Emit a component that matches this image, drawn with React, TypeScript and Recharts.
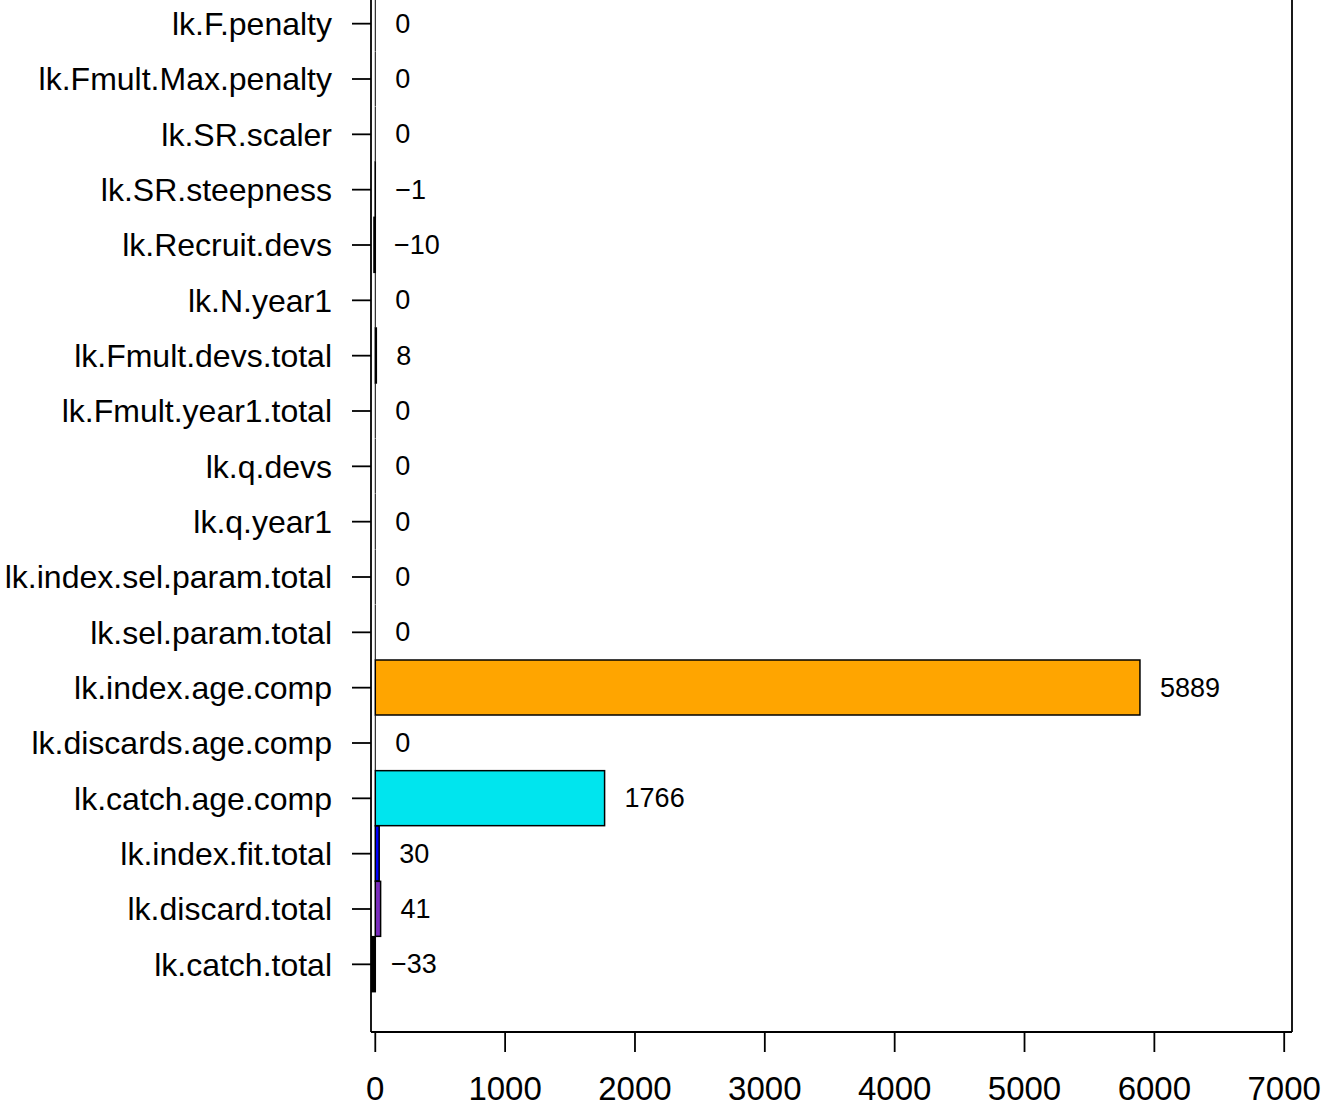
// Horizontal likelihood-component bar chart, R barplot look.
import { BarChart, Bar, XAxis, YAxis, Cell, LabelList, ReferenceLine } from 'recharts'

const components = [
  'lk.F.penalty', 'lk.Fmult.Max.penalty', 'lk.SR.scaler', 'lk.SR.steepness',
  'lk.Recruit.devs', 'lk.N.year1', 'lk.Fmult.devs.total', 'lk.Fmult.year1.total',
  'lk.q.devs', 'lk.q.year1', 'lk.index.sel.param.total', 'lk.sel.param.total',
  'lk.index.age.comp', 'lk.discards.age.comp', 'lk.catch.age.comp',
  'lk.index.fit.total', 'lk.discard.total', 'lk.catch.total',
]
const values = [0, 0, 0, -1, -10, 0, 8, 0, 0, 0, 0, 0, 5889, 0, 1766, 30, 41, -33]
const barColors = [
  '#BEBEBE', '#BEBEBE', '#BEBEBE', '#BEBEBE', '#BEBEBE', '#BEBEBE', '#BEBEBE', '#BEBEBE',
  '#BEBEBE', '#BEBEBE', '#BEBEBE', '#BEBEBE', '#FFA500', '#BEBEBE', '#00E5EE',
  '#0000FF', '#7B2DBE', '#000000',
]
const xTicks = [0, 1000, 2000, 3000, 4000, 5000, 6000, 7000]
const X_MIN = -33
const X_MAX = 7060

const data = components.map((name, i) => ({ name, value: values[i] }))

const FONT = '"Liberation Sans", Arial, Helvetica, sans-serif'

const fmt = (v: number) => (v < 0 ? `\u2212${Math.abs(v)}` : `${v}`)

function BarShape(props: any) {
  const { x, y, width, height, fill } = props
  const left = Math.min(x, x + width)
  const w = Math.abs(width)
  if (w < 0.01) {
    return <line x1={x} x2={x} y1={y} y2={y + height} stroke="#000" strokeWidth={1} />
  }
  return <rect x={left} y={y} width={w} height={height} fill={fill} stroke="#000" strokeWidth={1.5} />
}

function ValueLabel(props: any) {
  const { x, y, width, height, value } = props
  const end = value >= 0 ? Math.max(x, x + width) : Math.min(x, x + width)
  return (
    <text x={end + 20} y={y + height / 2} dominantBaseline="central" textAnchor="start"
      fontFamily={FONT} fontSize={27} fill="#000">
      {fmt(value)}
    </text>
  )
}

export default function App() {
  return (
    <div style={{ position: 'fixed', left: 0, top: 0, width: 1321, height: 1108, overflow: 'hidden', background: '#fff' }}>
      <div style={{ marginTop: -44 }}>
        <BarChart width={1321} height={1152} data={data} layout="vertical" barCategoryGap={0}
          margin={{ top: 0, right: 29, bottom: 0, left: 0 }}>
          <XAxis type="number" domain={[X_MIN, X_MAX]} ticks={xTicks} allowDataOverflow
            height={76} tickSize={20} tickMargin={25}
            axisLine={{ stroke: '#000', strokeWidth: 1.8 }}
            tickLine={{ stroke: '#000', strokeWidth: 1.8 }}
            tick={{ fill: '#000', fontSize: 33, fontFamily: FONT }} />
          <YAxis yAxisId="left" type="category" dataKey="name" width={371}
            padding={{ top: 40, bottom: 40 }} interval={0} tickSize={19} tickMargin={20}
            axisLine={{ stroke: '#000', strokeWidth: 1.8 }}
            tickLine={{ stroke: '#000', strokeWidth: 1.8 }}
            tick={{ fill: '#000', fontSize: 32, fontFamily: FONT }} />
          <ReferenceLine yAxisId="left" x={X_MAX} stroke="#000" strokeWidth={1.8} ifOverflow="visible" />
          <Bar yAxisId="left" dataKey="value" isAnimationActive={false} shape={BarShape}>
            {data.map((d, i) => <Cell key={d.name} fill={barColors[i]} />)}
            <LabelList dataKey="value" content={ValueLabel} />
          </Bar>
        </BarChart>
      </div>
    </div>
  )
}
